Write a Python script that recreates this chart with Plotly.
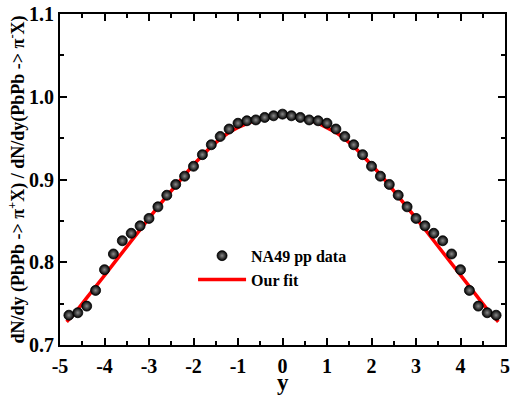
import plotly.graph_objects as go

# Data (symmetric NA49 pp points)
y_data = [-4.8, -4.6, -4.4, -4.2, -4.0, -3.8, -3.6, -3.4, -3.2, -3.0, -2.8, -2.6, -2.4,
          -2.2, -2.0, -1.8, -1.6, -1.4, -1.2, -1.0, -0.8, -0.6, -0.4, -0.2, 0.0,
          0.2, 0.4, 0.6, 0.8, 1.0, 1.2, 1.4, 1.6, 1.8, 2.0, 2.2, 2.4, 2.6, 2.8,
          3.0, 3.2, 3.4, 3.6, 3.8, 4.0, 4.2, 4.4, 4.6, 4.8]
ratio_data = [0.736, 0.739, 0.747, 0.766, 0.791, 0.810, 0.826, 0.835, 0.844, 0.853, 0.867, 0.881, 0.894,
              0.904, 0.916, 0.930, 0.942, 0.952, 0.961, 0.968, 0.971, 0.972, 0.975, 0.977, 0.979,
              0.977, 0.975, 0.972, 0.971, 0.968, 0.961, 0.952, 0.942, 0.930, 0.916, 0.904, 0.894, 0.881, 0.867,
              0.853, 0.844, 0.835, 0.826, 0.810, 0.791, 0.766, 0.747, 0.739, 0.736]

y_fit = [-4.85, -4.8, -4.6, -4.4, -4.2, -4.0, -3.8, -3.6, -3.4, -3.2, -3.0, -2.8, -2.6, -2.4,
         -2.2, -2.0, -1.8, -1.6, -1.4, -1.2, -1.0, -0.8, -0.6, -0.4, -0.2, 0.0,
         0.2, 0.4, 0.6, 0.8, 1.0, 1.2, 1.4, 1.6, 1.8, 2.0, 2.2, 2.4, 2.6, 2.8,
         3.0, 3.2, 3.4, 3.6, 3.8, 4.0, 4.2, 4.4, 4.6, 4.8, 4.85]
ratio_fit = [0.728, 0.731, 0.743, 0.757, 0.770, 0.784, 0.798, 0.812, 0.826, 0.840, 0.853, 0.867, 0.880, 0.893,
             0.906, 0.918, 0.929, 0.940, 0.949, 0.957, 0.963, 0.968, 0.972, 0.975, 0.977, 0.978,
             0.977, 0.975, 0.972, 0.968, 0.963, 0.957, 0.949, 0.940, 0.929, 0.918, 0.906, 0.893, 0.880, 0.867,
             0.853, 0.840, 0.826, 0.812, 0.798, 0.784, 0.770, 0.757, 0.743, 0.731, 0.728]

x_ticks = [-5, -4, -3, -2, -1, 0, 1, 2, 3, 4, 5]
y_ticks = [0.7, 0.8, 0.9, 1.0, 1.1]
y_tick_labels = ["0.7", "0.8", "0.9", "1.0", "1.1"]

FONT = "Liberation Serif"

fig = go.Figure()
fig.add_trace(go.Scatter(
    x=y_fit, y=ratio_fit, mode="lines", name="Our fit",
    line=dict(color="#ff0000", width=3.5),
))
fig.add_trace(go.Scatter(
    x=y_data, y=ratio_data, mode="markers", name="NA49 pp data",
    marker=dict(size=10, color="#000000",
                gradient=dict(type="radial", color="#8a8a8a"),
                line=dict(color="#000000", width=0.8)),
))

axis_common = dict(
    showline=True, linecolor="black", linewidth=2, mirror="allticks",
    ticks="inside", ticklen=7, tickwidth=1.5, tickcolor="black",
    showgrid=False, zeroline=False, automargin=False,
    tickfont=dict(family=FONT, size=20, color="black", weight="bold"),
)

fig.update_layout(
    width=513, height=396,
    margin=dict(l=60, r=8, t=14, b=51),
    paper_bgcolor="white", plot_bgcolor="white",
    font=dict(family=FONT, color="black"),
    showlegend=True,
    legend=dict(
        x=0.299, y=0.321, xanchor="left", yanchor="top",
        bgcolor="rgba(0,0,0,0)", traceorder="reversed", itemwidth=48,
        font=dict(family=FONT, size=16, color="black", weight="bold"),
    ),
    xaxis=dict(
        range=[-5, 5], tickvals=x_ticks, ticktext=[str(v) for v in x_ticks],
        ticklabelstandoff=2,
        minor=dict(dtick=0.5, ticks="inside", ticklen=4, tickcolor="black", tickwidth=1.5),
        **axis_common,
    ),
    yaxis=dict(
        range=[0.7, 1.1], tickvals=y_ticks, ticktext=y_tick_labels,
        minor=dict(dtick=0.05, ticks="inside", ticklen=4, tickcolor="black", tickwidth=1.5),
        title=dict(text="<b>dN/dy (PbPb -> π<sup>+</sup>X) / dN/dy(PbPb -> π<sup>-</sup>X)</b>",
                   font=dict(family=FONT, size=18), standoff=0),
        **axis_common,
    ),
    annotations=[dict(
        text="<b>y</b>", xref="paper", yref="paper", x=0.5, y=-0.113,
        xanchor="center", yanchor="middle", showarrow=False,
        font=dict(family=FONT, size=23, color="black"),
    )],
)

fig.write_html("out.html")
